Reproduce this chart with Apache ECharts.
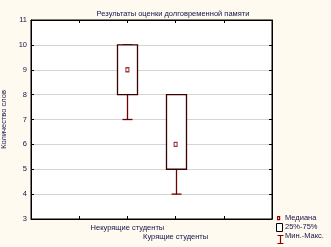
<!DOCTYPE html>
<html><head><meta charset="utf-8">
<script src="https://cdn.jsdelivr.net/npm/echarts@6/dist/echarts.min.js"></script>
<style>html,body{margin:0;padding:0;background:#fefaf0;}#c{width:331px;height:247px;}</style>
</head><body><div id="c"></div>
<script>
const title = 'Результаты оценки долговременной памяти';
const yName = 'Количество слов';
const categories = ['Некурящие студенты', 'Курящие студенты'];
const mins    = [7, 4];
const q1s     = [8, 5];
const medians = [9, 6];
const q3s     = [10, 8];
const maxs    = [10, 8];
const legendNames = ['Медиана', '25%-75%', 'Мин.-Макс.'];
const yTicks = [3, 4, 5, 6, 7, 8, 9, 10, 11];

const slots = ['', '', categories[0], categories[1], '', ''];
const boxData = categories.map((c, i) => [i + 2, mins[i], q1s[i], medians[i], q3s[i], maxs[i]]);
const medData = categories.map((c, i) => [i + 2, medians[i]]);

const txt = '#14144a';
const font = 'Liberation Sans, Arial, sans-serif';
const chart = echarts.init(document.getElementById('c'));
chart.setOption({
  backgroundColor: '#fefaf0',
  animation: false,
  title: { text: title, left: 168, top: 5, textAlign: 'center',
    textStyle: { fontSize: 7.5, fontWeight: 'normal', color: txt, fontFamily: font } },
  grid: { left: 31, right: 59, top: 20, bottom: 28, show: true, backgroundColor: '#ffffff',
    borderColor: '#000', borderWidth: 1, containLabel: false, outerBoundsMode: 'none' },
  xAxis: [{
    type: 'category', data: slots, boundaryGap: false,
    axisLine: { lineStyle: { color: '#000' } },
    axisTick: { inside: true, length: 3, interval: 0, lineStyle: { color: '#000' } },
    axisLabel: { interval: 0, margin: 4, fontSize: 7.5, color: txt, fontFamily: font, lineHeight: 9,
      formatter: (v, i) => i === 3 ? '\n' + v : v },
    splitLine: { show: false }
  }, {
    type: 'category', data: slots, boundaryGap: false, position: 'top',
    axisLine: { lineStyle: { color: '#000' } },
    axisTick: { inside: true, length: 3, interval: 0, lineStyle: { color: '#000' } },
    axisLabel: { show: false }, splitLine: { show: false }
  }],
  yAxis: [{
    type: 'value', min: yTicks[0], max: yTicks[yTicks.length - 1], interval: 1,
    name: yName, nameLocation: 'middle', nameGap: 17, nameRotate: 90,
    nameTextStyle: { fontSize: 7.5, color: txt, fontFamily: font },
    axisLine: { show: true, lineStyle: { color: '#000' } },
    axisTick: { show: true, inside: true, length: 3, lineStyle: { color: '#000' } },
    axisLabel: { margin: 4, fontSize: 7.5, color: txt, fontFamily: font },
    splitLine: { show: true, lineStyle: { color: '#d4d4d4', width: 1 } }
  }, {
    type: 'value', min: yTicks[0], max: yTicks[yTicks.length - 1], interval: 1, position: 'right',
    axisLine: { show: true, lineStyle: { color: '#000' } },
    axisTick: { show: true, inside: true, length: 3, lineStyle: { color: '#000' } },
    axisLabel: { show: false }, splitLine: { show: false }
  }],
  series: [{
    name: legendNames[2], type: 'custom', data: boxData,
    renderItem: (params, api) => {
      const x = api.value(0);
      const pMin = api.coord([x, api.value(1)]);
      const pQ1 = api.coord([x, api.value(2)]);
      const pQ3 = api.coord([x, api.value(4)]);
      const pMax = api.coord([x, api.value(5)]);
      const cx = Math.round(pMin[0]) + 0.5;
      const hw = 10, cw = 5;
      const wc = '#6e0000';
      const els = [
        { type: 'line', shape: { x1: cx, y1: pMin[1], x2: cx, y2: pQ1[1] }, style: { stroke: wc, lineWidth: 1.3 } },
        { type: 'line', shape: { x1: cx - cw, y1: pMin[1], x2: cx + cw, y2: pMin[1] }, style: { stroke: wc, lineWidth: 1.3 } },
        { type: 'line', shape: { x1: cx, y1: pQ3[1], x2: cx, y2: pMax[1] }, style: { stroke: wc, lineWidth: 1.3 } },
        { type: 'line', shape: { x1: cx - cw, y1: pMax[1], x2: cx + cw, y2: pMax[1] }, style: { stroke: wc, lineWidth: 1.3 } },
        { type: 'rect', shape: { x: cx - hw, y: pQ3[1], width: 2 * hw, height: pQ1[1] - pQ3[1] },
          style: { fill: '#ffffff', stroke: '#3c0000', lineWidth: 1.3 } }
      ];
      return { type: 'group', children: els };
    }
  }, {
    name: legendNames[0], type: 'scatter', data: medData, symbol: 'rect', symbolSize: [3, 4],
    itemStyle: { color: '#ffffff', borderColor: '#8a0000', borderWidth: 1.2 }, z: 5
  }],
  graphic: [
    { type: 'rect', left: 277, top: 216, shape: { width: 2, height: 3 },
      style: { fill: '#fff', stroke: '#8a0000', lineWidth: 1.2 } },
    { type: 'text', left: 285, top: 214, style: { text: legendNames[0], fontSize: 7.5, fill: txt, fontFamily: font } },
    { type: 'rect', left: 276, top: 223, shape: { width: 6, height: 8 },
      style: { fill: '#fff', stroke: '#000', lineWidth: 1 } },
    { type: 'text', left: 285, top: 223, style: { text: legendNames[1], fontSize: 7.5, fill: txt, fontFamily: font } },
    { type: 'polyline', left: 275, top: 233, shape: { points: [[0,0],[6,0],[3,0],[3,8],[0,8],[6,8]] },
      style: { stroke: '#8a0000', lineWidth: 1.2, fill: null } },
    { type: 'text', left: 285, top: 232, style: { text: legendNames[2], fontSize: 7.5, fill: txt, fontFamily: font } }
  ]
});
</script></body></html>
